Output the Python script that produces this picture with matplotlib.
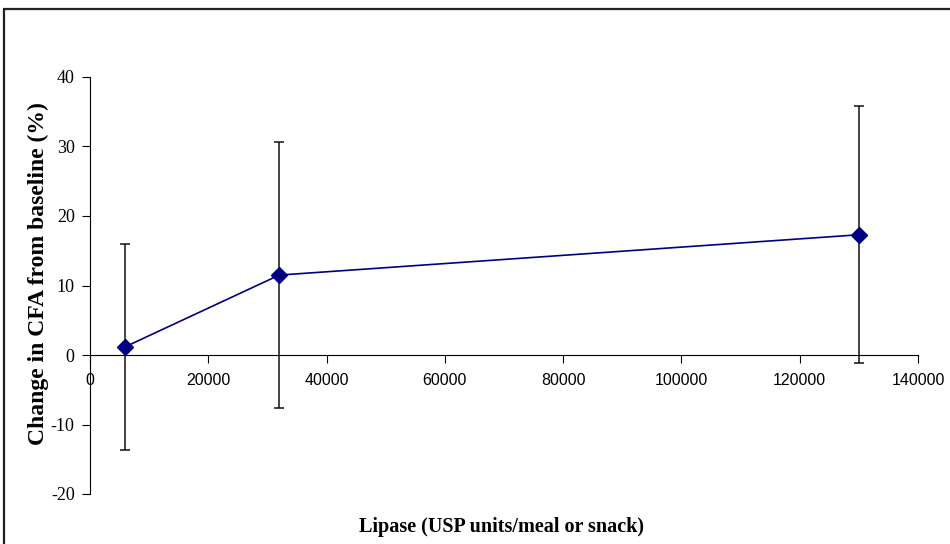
import matplotlib
matplotlib.use("Agg")
import matplotlib.pyplot as plt
from matplotlib.patches import Rectangle

lipase = [6000, 32000, 130000]
cfa_change = [1.2, 11.5, 17.3]
cfa_err = [14.8, 19.1, 18.5]
x_ticks = [0, 20000, 40000, 60000, 80000, 100000, 120000, 140000]
y_ticks = [-20, -10, 0, 10, 20, 30, 40]

fig = plt.figure(figsize=(9.5, 5.44), dpi=100)
fig.patches.append(Rectangle((4/950, -0.1), 1.0, 1 - 9/544 + 0.1, transform=fig.transFigure,
                             fill=False, edgecolor='#222222', linewidth=1.6))

ax = fig.add_axes([90/950, 1 - 494/544, (918 - 90)/950, (494 - 77)/544])
for s in ['top', 'right']:
    ax.spines[s].set_visible(False)
ax.spines['bottom'].set_position(('data', 0))
ax.spines['left'].set_position(('data', 0))

ax.errorbar(lipase, cfa_change, yerr=cfa_err, color='#000080', ecolor='#111111',
            elinewidth=1.1, capsize=3.8, capthick=1.1, linewidth=1.2, marker='D',
            markersize=8.5, markerfacecolor='#000080', markeredgecolor='#000080', zorder=3)

ax.set_xlim(0, 140000)
ax.set_ylim(-20, 40)
ax.set_xticks(x_ticks)
ax.set_yticks(y_ticks)
ax.set_xticklabels([str(v) for v in x_ticks], family='Liberation Sans', fontsize=11.5)
ax.set_yticklabels([str(v) for v in y_ticks], family='Liberation Serif', fontsize=13)
ax.tick_params(axis='x', direction='out', length=6, pad=7)
ax.tick_params(axis='y', direction='out', length=6, pad=5)

fig.text(38/950, 1 - 274/544, 'Change in CFA from baseline (%)', rotation=90,
         ha='center', va='center', family='Liberation Serif', fontweight='bold', fontsize=17)
fig.text(502/950, 1 - 527/544, 'Lipase (USP units/meal or snack)', ha='center', va='center',
         family='Liberation Serif', fontweight='bold', fontsize=14.5)

fig.savefig('out.png', dpi=100)
